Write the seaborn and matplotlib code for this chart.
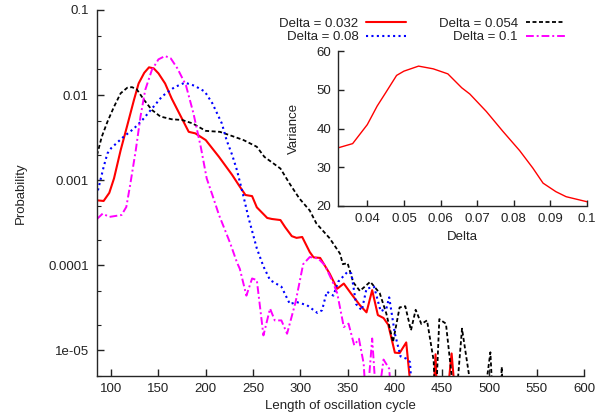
import numpy as np
import pandas as pd
import seaborn as sns
import matplotlib
matplotlib.use("Agg")
import matplotlib.pyplot as plt
from matplotlib.ticker import FixedLocator, FixedFormatter, LogLocator, NullFormatter

# Distribuciones de longitud de ciclo (2e-6 = fuera del eje)
x_032 = [85, 92, 98, 103, 110, 117, 124, 129, 135, 140, 145, 150, 157, 164, 173, 182, 189, 200,
         214, 228, 236, 242, 249, 254, 265, 270, 279, 284, 291, 296, 302, 310, 314, 321, 331, 339,
         346, 354, 363, 370, 376, 382, 388, 393, 400, 405, 412, 419, 440, 443, 445, 454, 460, 465]
p_032 = [5.8e-4, 5.7e-4, 7.1e-4, 1.05e-3, 2.25e-3, 4.4e-3, 8.7e-3, 1.37e-2, 1.83e-2, 2.12e-2,
         2.06e-2, 1.8e-2, 1.37e-2, 9.1e-3, 5.8e-3, 3.7e-3, 3.55e-3, 2.96e-3, 1.88e-3, 1.15e-3,
         8.4e-4, 6.7e-4, 6.5e-4, 4.8e-4, 3.6e-4, 3.5e-4, 3.4e-4, 2.8e-4, 2.2e-4, 2.1e-4, 2.15e-4,
         1.43e-4, 1.24e-4, 1.22e-4, 8e-5, 5.3e-5, 6.1e-5, 4.6e-5, 3.4e-5, 2.8e-5, 5.1e-5, 2.6e-5,
         2.4e-5, 2.0e-5, 9.4e-6, 9.3e-6, 1.24e-5, 2e-6, 2e-6, 9e-6, 2e-6, 2e-6, 9.2e-6, 2e-6]

x_054 = [85, 90, 96, 103, 110, 117, 122, 127, 135, 143, 152, 164, 175, 186, 200, 215, 228, 240,
         254, 262, 279, 289, 299, 310, 317, 331, 342, 345, 350, 356, 363, 374, 384, 391, 398, 405,
         411, 417, 422, 428, 434, 441, 443, 447, 454, 464, 471, 484, 493, 501, 504, 511, 513, 515]
p_054 = [1.97e-3, 3.23e-3, 4.85e-3, 7.3e-3, 1.05e-2, 1.22e-2, 1.24e-2, 1.17e-2, 8.7e-3, 6.7e-3,
         5.6e-3, 5.2e-3, 5.1e-3, 4.65e-3, 3.8e-3, 3.7e-3, 3.3e-3, 2.96e-3, 2.47e-3, 1.88e-3,
         1.37e-3, 9e-4, 6.1e-4, 4.4e-4, 3.1e-4, 2.08e-4, 1.37e-4, 1.03e-4, 1.06e-4, 6.3e-5, 5.0e-5,
         6.4e-5, 4.7e-5, 2.7e-5, 1.25e-5, 3.2e-5, 3.3e-5, 1.72e-5, 3.0e-5, 2.04e-5, 2.25e-5, 7.6e-6,
         2e-6, 2.33e-5, 2.06e-5, 2e-6, 1.8e-5, 2e-6, 2e-6, 9.5e-6, 2e-6, 2e-6, 6.4e-6, 2e-6]

x_08 = [86, 92, 96, 100, 112, 124, 133, 142, 154, 167, 178, 188, 199, 207, 217, 222, 228, 233,
        240, 245, 254, 261, 268, 280, 289, 296, 307, 318, 323, 328, 335, 340, 350, 354, 359, 365,
        370, 378, 385, 391, 394, 400, 406, 412, 416, 419]
p_08 = [7.6e-4, 1.43e-3, 2.06e-3, 2.38e-3, 3.16e-3, 4.04e-3, 5.1e-3, 6.7e-3, 9.7e-3, 1.24e-2,
        1.4e-2, 1.29e-2, 1.1e-2, 8e-3, 4.65e-3, 2.96e-3, 1.97e-3, 1.31e-3, 6.4e-4, 3.7e-4, 1.58e-4,
        9.7e-5, 6.7e-5, 5.6e-5, 3.5e-5, 3.7e-5, 3.4e-5, 2.76e-5, 2.96e-5, 4.9e-5, 4.4e-5, 6.4e-5,
        8.4e-5, 8e-5, 3.5e-5, 2.96e-5, 5.3e-5, 5.6e-5, 2.88e-5, 3.1e-5, 4.2e-5, 1.57e-5, 8.5e-6,
        8e-6, 7.3e-6, 2e-6]

x_1 = [85, 91, 98, 111, 116, 120, 126, 131, 136, 143, 150, 157, 163, 170, 179, 187, 195, 201,
       207, 214, 219, 226, 233, 236, 243, 249, 254, 261, 268, 273, 280, 286, 295, 303, 310, 319,
       326, 335, 339, 346, 351, 357, 362, 367, 370, 376, 381, 388, 394, 397]
p_1 = [3.5e-4, 4.05e-4, 3.7e-4, 3.9e-4, 4.85e-4, 8.7e-4, 2.25e-3, 5.6e-3, 1.15e-2, 1.97e-2,
       2.63e-2, 2.88e-2, 2.7e-2, 2.06e-2, 1.31e-2, 6.1e-3, 2.38e-3, 1.05e-3, 6.7e-4, 3.9e-4,
       2.83e-4, 1.8e-4, 1.08e-4, 9.1e-5, 4.4e-5, 7e-5, 6.7e-5, 1.5e-5, 3.1e-5, 2.25e-5, 2.25e-5,
       1.57e-5, 3.7e-5, 1.03e-4, 1.25e-4, 1.2e-4, 1e-4, 6.1e-5, 4.7e-5, 1.88e-5, 2.06e-5, 1.15e-5,
       1.37e-5, 7e-6, 2e-6, 1.38e-5, 2e-6, 7.8e-6, 6.1e-6, 2e-6]

# Inset: varianza frente a Delta
delta = [0.032, 0.036, 0.040, 0.0427, 0.045, 0.048, 0.050, 0.054, 0.058, 0.062, 0.0658, 0.068,
         0.0725, 0.077, 0.0816, 0.0852, 0.088, 0.0915, 0.0943, 0.100]
variance = [35.0, 36.1, 41.0, 45.8, 49.2, 53.7, 54.8, 56.1, 55.4, 54.1, 50.5, 48.9, 44.4, 39.3,
            34.3, 29.8, 25.9, 23.7, 22.4, 21.1]

FS = 9.5

sns.set_theme(style="white")
plt.rcParams["font.family"] = ["Liberation Sans", "DejaVu Sans"]
plt.rcParams["font.size"] = FS
plt.rcParams["axes.linewidth"] = 1.0
plt.rcParams["text.color"] = "#222222"
plt.rcParams["axes.labelcolor"] = "#222222"
plt.rcParams["xtick.color"] = "#222222"
plt.rcParams["ytick.color"] = "#222222"

fig = plt.figure(figsize=(6.05, 4.18), dpi=100)
ax = fig.add_axes([97 / 605, 42 / 418, 487 / 605, 366 / 418])

series = [
    ("Delta = 0.032", x_032, p_032, "#ff0000", "-", 1.5),
    ("Delta = 0.054", x_054, p_054, "#000000", (0, (2.2, 1.4)), 1.3),
    ("Delta = 0.08", x_08, p_08, "#0000ff", (0, (1, 1.6)), 1.5),
    ("Delta = 0.1", x_1, p_1, "#ff00ff", (0, (4, 1.5, 1, 1.5)), 1.4),
]
for label, xs, ps, color, ls, lw in series:
    sns.lineplot(x=xs, y=ps, ax=ax, color=color, linestyle=ls, linewidth=lw,
                 label=label, estimator=None, sort=False)

ax.set_yscale("log")
ax.set_xlim(85, 600)
ax.set_ylim(5e-6, 0.1)
ax.set_xticks(range(100, 601, 50))
ax.yaxis.set_major_locator(FixedLocator([1e-1, 1e-2, 1e-3, 1e-4, 1e-5]))
ax.yaxis.set_major_formatter(FixedFormatter(["0.1", "0.01", "0.001", "0.0001", "1e-05"]))
ax.yaxis.set_minor_locator(LogLocator(base=10, subs=(2.0, 5.0)))
ax.yaxis.set_minor_formatter(NullFormatter())
ax.tick_params(axis="both", which="both", bottom=True, left=True, top=False, right=False)
ax.tick_params(axis="both", which="major", direction="in", length=5, width=1, pad=5, labelsize=FS)
ax.tick_params(axis="y", which="minor", direction="in", length=3, width=0.8)
ax.tick_params(axis="y", which="major", pad=6)
ax.spines["top"].set_visible(False)
ax.spines["right"].set_visible(False)
ax.set_xlabel("Length of oscillation cycle", fontsize=FS, labelpad=4)
ax.set_ylabel("Probability", fontsize=FS, labelpad=15)

handles, labels = ax.get_legend_handles_labels()
order = [0, 2, 1, 3]
ax.legend([handles[i] for i in order], [labels[i] for i in order], ncol=2, markerfirst=False,
          frameon=False, loc="upper right", bbox_to_anchor=(572 / 605, 1 - 11 / 418),
          bbox_transform=fig.transFigure, borderpad=0, handlelength=3.0, handletextpad=0.6,
          columnspacing=2.5, labelspacing=0.1, fontsize=FS)

# Inset
axin = fig.add_axes([338 / 605, 1 - 206 / 418, 249 / 605, 155 / 418])
axin.patch.set_alpha(0)
sns.lineplot(x=delta, y=variance, ax=axin, color="#ff0000", linewidth=1.0,
             estimator=None, sort=False)
axin.set_xlim(0.032, 0.1)
axin.set_ylim(20, 60)
axin.set_xticks([0.04, 0.05, 0.06, 0.07, 0.08, 0.09, 0.1])
axin.set_xticklabels(["0.04", "0.05", "0.06", "0.07", "0.08", "0.09", "0.1"])
axin.set_yticks([20, 30, 40, 50, 60])
axin.tick_params(axis="both", bottom=True, left=True, top=False, right=False)
axin.tick_params(axis="both", direction="in", length=4, width=1, pad=5, labelsize=FS)
axin.spines["top"].set_visible(False)
axin.spines["right"].set_visible(False)
axin.set_xlabel("Delta", fontsize=FS, labelpad=4)
axin.set_ylabel("Variance", fontsize=FS, labelpad=12)

fig.savefig("out.png", dpi=100)
